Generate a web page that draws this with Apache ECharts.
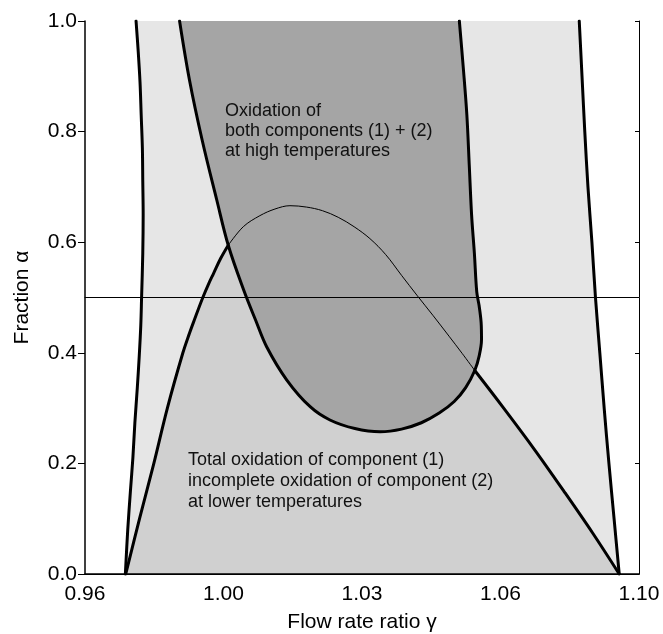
<!DOCTYPE html>
<html>
<head>
<meta charset="utf-8">
<script src="https://cdn.jsdelivr.net/npm/echarts@6/dist/echarts.min.js"></script>
<style>
  html, body { margin: 0; padding: 0; background: #fff; }
  #chart { width: 663px; height: 634px; }
</style>
</head>
<body>
<div id="chart"></div>
<script>
// Operating map: flow rate ratio (gamma) vs. fraction (alpha)

const xTickLabels = ['0.96', '1.00', '1.03', '1.06', '1.10'];
const yTickLabels = ['0.0', '0.2', '0.4', '0.6', '0.8', '1.0'];

// Outer stability limits (left: bottom -> top, right: top -> bottom)
const leftLimit = [
  [0.9702, 0], [0.9708, 0.08], [0.9715, 0.152], [0.9721, 0.21], [0.9726, 0.273],
  [0.9732, 0.335], [0.9737, 0.393], [0.9741, 0.45], [0.9743, 0.5], [0.9746, 0.58],
  [0.9747, 0.65], [0.9746, 0.71], [0.9745, 0.77], [0.9742, 0.83], [0.9739, 0.89],
  [0.9734, 0.95], [0.9729, 1.0]
];
const rightLimit = [
  [1.0849, 1.0], [1.0856, 0.9], [1.0863, 0.8], [1.0871, 0.7], [1.0881, 0.6],
  [1.0890, 0.5], [1.0901, 0.4], [1.0912, 0.3], [1.0924, 0.2], [1.0937, 0.1],
  [1.0950, 0]
];

// Boundary of the low-temperature regime: rising branch, cap, falling branch
const arcRise = [
  [0.9703, 0], [0.9738, 0.1007], [0.9774, 0.2002], [0.9808, 0.2996], [0.9847, 0.3991],
  [0.9864, 0.4353], [0.9876, 0.4588], [0.9898, 0.5004], [0.9913, 0.5257], [0.9925, 0.5438],
  [0.9943, 0.5709], [0.9962, 0.5945]
];
const arcCap = [
  [0.9962, 0.5945], [1.0000, 0.628], [1.0042, 0.648], [1.0080, 0.660], [1.0118, 0.666],
  [1.0160, 0.6635], [1.0200, 0.657], [1.0240, 0.645], [1.0280, 0.628], [1.0320, 0.6065],
  [1.0360, 0.5775], [1.0400, 0.540], [1.0440, 0.503], [1.0480, 0.467], [1.0520, 0.430],
  [1.0553, 0.399], [1.0585, 0.368]
];
const arcFall = [
  [1.0585, 0.368], [1.0658, 0.300], [1.0735, 0.226], [1.0810, 0.150], [1.0882, 0.075],
  [1.0950, 0]
];

// Boundary of the high-temperature regime (open at alpha = 1)
const hotEdge = [
  [0.9839, 1.0], [0.9864, 0.8933], [0.9896, 0.7848], [0.9933, 0.6763], [0.9962, 0.5945],
  [1.0001, 0.5136], [1.0031, 0.4593], [1.0059, 0.4110], [1.0110, 0.3508], [1.0169, 0.3025],
  [1.0219, 0.2785], [1.0282, 0.2631], [1.0346, 0.2573], [1.0400, 0.2620], [1.0450, 0.2735],
  [1.0495, 0.2910], [1.0533, 0.3120], [1.0562, 0.3370], [1.0585, 0.368], [1.0596, 0.3940],
  [1.0602, 0.4240], [1.0601, 0.4550], [1.0596, 0.4850], [1.0590, 0.5100], [1.0584, 0.58],
  [1.0577, 0.649], [1.0571, 0.74], [1.0565, 0.830], [1.0556, 0.915], [1.0546, 1.0]
];

const referenceLevel = [[0.96, 0.5], [1.10, 0.5]];

const FONT = '"Liberation Sans", Arial, Helvetica, sans-serif';

function area(points, color) {
  return {
    type: 'custom',
    coordinateSystem: 'cartesian2d',
    data: [points[0]],
    silent: true,
    z: 1,
    renderItem: function (params, api) {
      return {
        type: 'polygon',
        shape: { points: points.map(function (p) { return api.coord(p); }) },
        style: { fill: color, stroke: null }
      };
    }
  };
}

function curve(points, width, smooth) {
  return {
    type: 'line',
    data: points,
    showSymbol: false,
    symbol: 'none',
    silent: true,
    smooth: smooth,
    z: 3,
    lineStyle: { color: '#000', width: width, join: 'round', cap: 'round' }
  };
}

const chart = echarts.init(document.getElementById('chart'), null, { renderer: 'canvas' });

chart.setOption({
  animation: false,
  backgroundColor: '#fff',
  grid: { left: 85, right: 24, top: 21, bottom: 60, containLabel: false, outerBoundsMode: 'none' },
  xAxis: [
    {
      type: 'value', min: 0.96, max: 1.10, interval: 0.035, position: 'bottom', z: 10,
      name: 'Flow rate ratio \u03b3', nameLocation: 'middle', nameGap: 38,
      nameTextStyle: { fontFamily: FONT, fontSize: 21, color: '#000' },
      axisLine: { show: true, lineStyle: { color: '#000', width: 1.5 } },
      axisTick: { show: false },
      splitLine: { show: false },
      axisLabel: {
        margin: 10, fontFamily: FONT, fontSize: 21, color: '#000',
        formatter: function (v) { return xTickLabels[Math.round((v - 0.96) / 0.035)]; }
      }
    },
    {
      type: 'value', min: 0.96, max: 1.10, position: 'top', z: 10,
      axisLine: { show: true, lineStyle: { color: '#000', width: 1 } },
      axisTick: { show: false }, axisLabel: { show: false }, splitLine: { show: false }
    }
  ],
  yAxis: [
    {
      type: 'value', min: 0, max: 1, interval: 0.2, position: 'left', z: 10,
      name: 'Fraction \u03b1', nameLocation: 'middle', nameGap: 52,
      nameTextStyle: { fontFamily: FONT, fontSize: 21, color: '#000' },
      axisLine: { show: true, lineStyle: { color: '#000', width: 1.5 } },
      axisTick: { show: true, length: 7, lineStyle: { color: '#000', width: 1 } },
      splitLine: { show: false },
      axisLabel: {
        margin: 8, fontFamily: FONT, fontSize: 21, color: '#000',
        formatter: function (v) { return yTickLabels[Math.round(v / 0.2)]; }
      }
    },
    {
      type: 'value', min: 0, max: 1, interval: 0.2, position: 'right', z: 10,
      axisLine: { show: true, lineStyle: { color: '#000', width: 1 } },
      axisTick: { show: true, inside: true, length: 4, lineStyle: { color: '#000', width: 1 } },
      axisLabel: { show: false }, splitLine: { show: false }
    }
  ],
  series: [
    area(leftLimit.concat(rightLimit), '#e6e6e6'),
    area(arcRise.concat(arcCap.slice(1), arcFall.slice(1)), '#d0d0d0'),
    area(hotEdge, '#a5a5a5'),
    curve(referenceLevel, 1, false),
    curve(leftLimit, 3, 0.35),
    curve(rightLimit, 3, 0.35),
    curve(arcRise, 3, 0.35),
    curve(arcCap, 1, 0.35),
    curve(arcFall, 3, 0.35),
    curve(hotEdge, 3, 0.35)
  ],
  graphic: [
    {
      type: 'text', left: 225, top: 101, z: 20, silent: true,
      style: {
        text: 'Oxidation of\nboth components (1) + (2)\nat high temperatures',
        font: '18px ' + FONT, fill: '#111', lineHeight: 20
      }
    },
    {
      type: 'text', left: 188, top: 450, z: 20, silent: true,
      style: {
        text: 'Total oxidation of component (1)\nincomplete oxidation of component (2)\nat lower temperatures',
        font: '18px ' + FONT, fill: '#111', lineHeight: 21
      }
    }
  ]
});
</script>
</body>
</html>
